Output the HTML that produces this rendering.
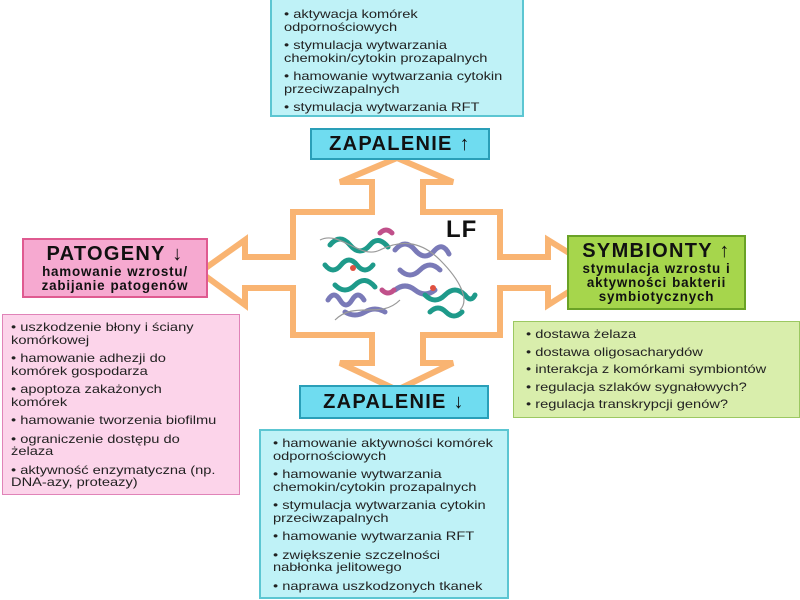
<!DOCTYPE html>
<html><head><meta charset="utf-8"><style>
body{margin:0;width:800px;height:600px;background:#fff;position:relative;overflow:hidden;font-family:"Liberation Sans",sans-serif;}
.b{position:absolute;box-sizing:border-box;}
.list{font-size:12px;line-height:12.5px;color:#222;padding:6px 4px 0 12px;white-space:nowrap;}
.list .in{transform:scaleX(1.22);transform-origin:0 0;}
.list p{margin:0 0 6px 0;}
.h{font-weight:bold;text-align:center;color:#111;white-space:nowrap;}
.t{font-size:20px;letter-spacing:1.3px;}
.s{font-size:13.4px;line-height:14px;letter-spacing:0.8px;word-spacing:0.5px;}
</style></head><body>
<svg width="800" height="600" style="position:absolute;left:0;top:0">
<polygon points="397,158 453,182 423,182 423,212 500,212 500,257 548,257 548,240 600,272 548,305 548,288 500,288 500,335 423,335 423,363 453,363 397,390 340,363 372,363 372,335 293,335 293,288 245,288 245,305 200,272 245,240 245,257 293,257 293,212 372,212 372,182 340,182" fill="#fff" stroke="#f9b472" stroke-width="6" stroke-linejoin="miter"/>
<g fill="none" stroke-width="5" stroke-linecap="round">
<path d="M330,245 q10,-12 20,0 q10,12 20,0 q8,-10 18,2" stroke="#1e9a8a"/>
<path d="M325,265 q8,10 16,0 q8,-10 16,0 q8,10 16,0" stroke="#1e9a8a"/>
<path d="M335,285 q10,10 20,0 q10,-10 20,2" stroke="#1e9a8a"/>
<path d="M328,300 q6,-10 12,0 q6,10 12,0 q6,-10 12,0" stroke="#7a7ab8"/>
<path d="M345,312 q10,6 20,0 q10,-6 20,0" stroke="#7a7ab8"/>
<path d="M395,250 q10,-12 20,0 q10,12 20,0 q8,-8 14,4" stroke="#7a7ab8"/>
<path d="M400,270 q10,10 20,0 q10,-10 20,0" stroke="#7a7ab8"/>
<path d="M395,290 q10,-8 20,0 q10,8 20,0" stroke="#7a7ab8"/>
<path d="M425,295 q10,10 20,0 q10,-10 20,0 q6,8 10,0" stroke="#1e9a8a"/>
<path d="M430,312 q8,-8 16,0 q8,8 16,0" stroke="#1e9a8a"/>
<path d="M380,233 q6,-6 12,0" stroke="#c0508a"/>
<path d="M382,290 q6,6 12,0" stroke="#c0508a"/>
<circle cx="353" cy="268" r="3" fill="#e05040" stroke="none"/>
<circle cx="433" cy="288" r="3" fill="#e05040" stroke="none"/>
</g>
<path d="M320,240 C340,230 360,260 380,250 S420,240 440,260 S470,300 460,310 M335,320 C355,300 380,320 400,300" fill="none" stroke="#999" stroke-width="1.2"/>
</svg>
<div class="b h" style="left:446px;top:216px;font-size:24px;letter-spacing:1px;">LF</div>

<div class="b list" style="left:270px;top:-2px;width:254px;height:119px;background:#bff2f7;border:2px solid #5cc6d2;padding-top:8px;"><div class="in">
<p>• aktywacja komórek<br>odpornościowych</p>
<p>• stymulacja wytwarzania<br>chemokin/cytokin prozapalnych</p>
<p>• hamowanie wytwarzania cytokin<br>przeciwzapalnych</p>
<p>• stymulacja wytwarzania RFT</p>
</div></div>
<div class="b h t" style="left:310px;top:128px;width:180px;height:32px;background:#6fdcf0;border:2px solid #2a9fb8;line-height:28px;">ZAPALENIE ↑</div>

<div class="b h" style="left:22px;top:238px;width:186px;height:60px;background:#f6a9d0;border:2px solid #df5a90;">
<div class="t" style="line-height:22px;margin-top:3px">PATOGENY ↓</div>
<div class="s">hamowanie wzrostu/<br>zabijanie patogenów</div></div>
<div class="b list" style="left:2px;top:314px;width:238px;height:181px;background:#fcd4ea;border:1.5px solid #e083b8;padding-left:8px;"><div class="in">
<p>• uszkodzenie błony i ściany<br>komórkowej</p>
<p>• hamowanie adhezji do<br>komórek gospodarza</p>
<p>• apoptoza zakażonych<br>komórek</p>
<p>• hamowanie tworzenia biofilmu</p>
<p>• ograniczenie dostępu do<br>żelaza</p>
<p>• aktywność enzymatyczna (np.<br>DNA-azy, proteazy)</p>
</div></div>

<div class="b h" style="left:567px;top:235px;width:179px;height:75px;background:#a6d64c;border:2px solid #6aa226;">
<div class="t" style="line-height:22px;margin-top:3px">SYMBIONTY ↑</div>
<div class="s">stymulacja wzrostu i<br>aktywności bakterii<br>symbiotycznych</div></div>
<div class="b list" style="left:513px;top:321px;width:287px;height:97px;background:#d9eeac;border:1.5px solid #9cc862;padding-top:6px;"><div class="in">
<p style="margin-bottom:5px">• dostawa żelaza</p>
<p style="margin-bottom:5px">• dostawa oligosacharydów</p>
<p style="margin-bottom:5px">• interakcja z komórkami symbiontów</p>
<p style="margin-bottom:5px">• regulacja szlaków sygnałowych?</p>
<p>• regulacja transkrypcji genów?</p>
</div></div>

<div class="b h t" style="left:299px;top:385px;width:190px;height:34px;background:#6fdcf0;border:2px solid #2a9fb8;line-height:30px;">ZAPALENIE ↓</div>
<div class="b list" style="left:259px;top:429px;width:250px;height:170px;background:#bff2f7;border:2px solid #5cc6d2;"><div class="in">
<p>• hamowanie aktywności komórek<br>odpornościowych</p>
<p>• hamowanie wytwarzania<br>chemokin/cytokin prozapalnych</p>
<p>• stymulacja wytwarzania cytokin<br>przeciwzapalnych</p>
<p>• hamowanie wytwarzania RFT</p>
<p>• zwiększenie szczelności<br>nabłonka jelitowego</p>
<p>• naprawa uszkodzonych tkanek</p>
</div></div>
</body></html>
